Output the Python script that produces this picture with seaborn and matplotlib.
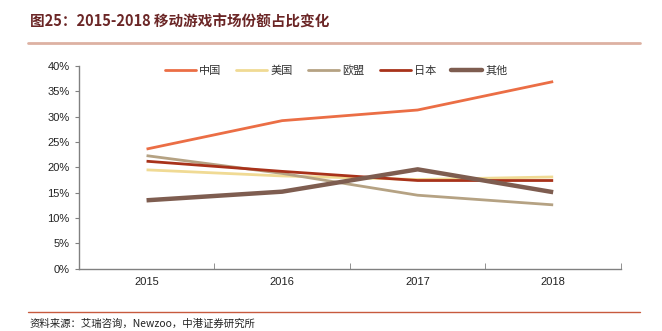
import matplotlib
matplotlib.use("Agg")
import matplotlib.pyplot as plt
import seaborn as sns
import pandas as pd
from matplotlib.lines import Line2D
from matplotlib.ticker import FuncFormatter, FixedLocator

years = ["2015", "2016", "2017", "2018"]
china = [23.6, 29.2, 31.3, 36.9]
usa = [19.5, 18.3, 17.6, 18.1]
europe = [22.3, 18.8, 14.5, 12.6]
japan = [21.2, 19.2, 17.4, 17.4]
other = [13.5, 15.2, 19.6, 15.1]
series_names = ["中国", "美国", "欧盟", "日本", "其他"]
colors = ["#EB6E45", "#F0DA94", "#B5A283", "#A8321A", "#7E5D50"]
widths = [2.0, 2.0, 2.0, 2.0, 3.2]

sns.set_style("white")
plt.rcParams['font.family'] = ['Liberation Sans', 'Noto Sans CJK SC', 'DejaVu Sans']

rows = []
for name, vals in zip(series_names, [china, usa, europe, japan, other]):
    for i, v in enumerate(vals):
        rows.append({"pos": i, "year": years[i], "value": v, "series": name})
df = pd.DataFrame(rows)

fig = plt.figure(figsize=(6.62, 3.31), dpi=100)
ax = fig.add_axes([0.119, 0.188, 0.819, 0.613])

for name, c, w in zip(series_names, colors, widths):
    sub = df[df["series"] == name]
    sns.lineplot(data=sub, x="pos", y="value", ax=ax, color=c, linewidth=w,
                 legend=False, solid_capstyle="butt")

ax.set_xlim(-0.5, 3.5)
ax.set_ylim(0, 40)
ax.set_xticks(range(len(years)))
ax.set_xticklabels(years)
ax.xaxis.set_minor_locator(FixedLocator([-0.5, 0.5, 1.5, 2.5, 3.5]))
ax.tick_params(axis='x', which='major', length=0, labelsize=8, colors='#222222', pad=6)
ax.tick_params(axis='x', which='minor', length=4, direction='in', color='#808080', bottom=True)
ax.set_yticks(range(0, 41, 5))
ax.yaxis.set_major_formatter(FuncFormatter(lambda v, p: f"{int(v)}%"))
ax.tick_params(axis='y', length=3, direction='out', color='#808080', labelsize=8,
               colors='#222222', left=True)
ax.set_xlabel("")
ax.set_ylabel("")
for s in ["top", "right"]:
    ax.spines[s].set_visible(False)
for s in ["left", "bottom"]:
    ax.spines[s].set_color("#808080")
    ax.spines[s].set_linewidth(1.0)

handles = [Line2D([0], [0], color=c, lw=w) for c, w in zip(colors, widths)]
leg = ax.legend(handles, series_names, loc="upper center", bbox_to_anchor=(0.475, 1.055),
                ncol=5, frameon=False, handlelength=2.8, columnspacing=1.35,
                handletextpad=0.3, prop={'family': ['Noto Sans CJK SC'], 'size': 8})
for t in leg.get_texts():
    t.set_color("#333333")

fig.text(0.045, 0.935, "图25：2015-2018 移动游戏市场份额占比变化",
         fontsize=10.5, fontweight='bold', color='#6B2626',
         family=['Noto Sans CJK SC'], va='center', ha='left')
fig.add_artist(Line2D([0.042, 0.967], [0.870, 0.870], color='#DDB1A2', lw=2.0,
                      transform=fig.transFigure))
fig.add_artist(Line2D([0.042, 0.967], [0.057, 0.057], color='#C75A3E', lw=1.0,
                      transform=fig.transFigure))
fig.text(0.045, 0.022, "资料来源：艾瑞咨询，Newzoo，中港证券研究所",
         fontsize=7.5, style='italic', color='#222222',
         family=['Noto Sans CJK SC'], va='center', ha='left')

fig.savefig("out.png", dpi=100)
